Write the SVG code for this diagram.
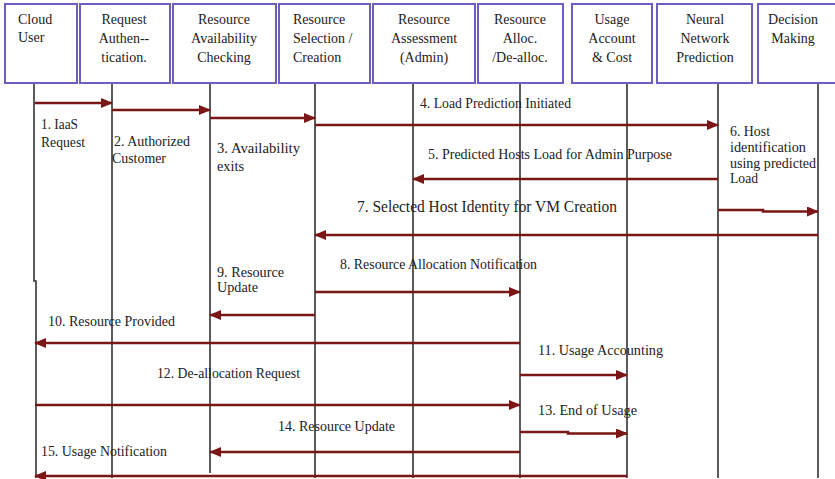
<svg xmlns="http://www.w3.org/2000/svg" width="835" height="479" viewBox="0 0 835 479">
  <style>
    .box { fill: #ffffff; stroke: #6c5fbf; stroke-width: 2; }
    .hdr { font-family: "Liberation Serif", "Times New Roman", serif; font-size: 14px; fill: #222222; }
    .mid { text-anchor: middle; }
    .life { stroke: #333333; stroke-width: 1.6; fill: none; }
    .msg { stroke: #7a1616; stroke-width: 2.6; fill: none; marker-end: url(#head); }
    .lbl { font-family: "Liberation Serif", "Times New Roman", serif; font-size: 14px; fill: #222222; }
    .big { font-size: 16px; }
  </style>
  <defs>
    <marker id="head" markerUnits="userSpaceOnUse" markerWidth="12" markerHeight="10" refX="11" refY="5" orient="auto">
      <path d="M0,0 L12,5 L0,10 Z" fill="#7a1616"/>
    </marker>
  </defs>
  <rect x="0" y="0" width="835" height="479" fill="#ffffff"/>

  <!-- lifelines -->
  <g id="lifelines">
    <path class="life" d="M34,83 V281 H36 V478"/>
    <line class="life" x1="112" y1="83" x2="112" y2="478"/>
    <line class="life" x1="210" y1="83" x2="210" y2="473"/>
    <line class="life" x1="315" y1="83" x2="315" y2="478"/>
    <line class="life" x1="413" y1="83" x2="413" y2="478"/>
    <line class="life" x1="520" y1="83" x2="520" y2="478"/>
    <line class="life" x1="627" y1="83" x2="627" y2="478"/>
    <line class="life" x1="718" y1="83" x2="718" y2="478"/>
    <line class="life" x1="818" y1="83" x2="818" y2="478"/>
  </g>

  <!-- participants -->
  <g id="cloud-user">
    <rect class="box" x="5" y="4" width="72" height="79"/>
    <text class="hdr" x="18" y="24">Cloud</text>
    <text class="hdr" x="18" y="42">User</text>
  </g>
  <g id="request-auth">
    <rect class="box" x="80" y="4" width="90" height="79"/>
    <text class="hdr mid" x="124" y="24">Request</text>
    <text class="hdr mid" x="124" y="43">Authen--</text>
    <text class="hdr mid" x="124" y="62">tication.</text>
  </g>
  <g id="resource-availability">
    <rect class="box" x="173" y="4" width="103" height="79"/>
    <text class="hdr mid" x="224" y="24">Resource</text>
    <text class="hdr mid" x="224" y="43">Availability</text>
    <text class="hdr mid" x="224" y="62">Checking</text>
  </g>
  <g id="resource-selection">
    <rect class="box" x="279" y="4" width="91" height="79"/>
    <text class="hdr" x="293" y="24">Resource</text>
    <text class="hdr" x="293" y="43">Selection /</text>
    <text class="hdr" x="293" y="62">Creation</text>
  </g>
  <g id="resource-assessment">
    <rect class="box" x="373" y="4" width="102" height="79"/>
    <text class="hdr mid" x="424" y="24">Resource</text>
    <text class="hdr mid" x="424" y="43">Assessment</text>
    <text class="hdr mid" x="424" y="62">(Admin)</text>
  </g>
  <g id="resource-alloc">
    <rect class="box" x="478" y="4" width="85" height="79"/>
    <text class="hdr mid" x="520" y="24">Resource</text>
    <text class="hdr mid" x="520" y="43">Alloc.</text>
    <text class="hdr mid" x="520" y="62">/De-alloc.</text>
  </g>
  <g id="usage-account">
    <rect class="box" x="572" y="4" width="80" height="79"/>
    <text class="hdr mid" x="612" y="24">Usage</text>
    <text class="hdr mid" x="612" y="43">Account</text>
    <text class="hdr mid" x="612" y="62">&amp; Cost</text>
  </g>
  <g id="neural-network">
    <rect class="box" x="657" y="4" width="95" height="79"/>
    <text class="hdr mid" x="705" y="24">Neural</text>
    <text class="hdr mid" x="705" y="43">Network</text>
    <text class="hdr mid" x="705" y="62">Prediction</text>
  </g>
  <g id="decision-making">
    <rect class="box" x="758" y="4" width="90" height="79"/>
    <text class="hdr mid" x="793" y="24">Decision</text>
    <text class="hdr mid" x="793" y="43">Making</text>
  </g>

  <!-- messages -->
  <g id="connectors">
    <line class="msg" x1="35" y1="103" x2="112" y2="103"/>
    <line class="msg" x1="112" y1="110" x2="210" y2="110"/>
    <line class="msg" x1="210" y1="118" x2="315" y2="118"/>
    <line class="msg" x1="315" y1="125" x2="718" y2="125"/>
    <line class="msg" x1="718" y1="179" x2="413" y2="179"/>
    <path class="msg" d="M718,210 H763 V211.5 H818"/>
    <line class="msg" x1="818" y1="235" x2="315" y2="235"/>
    <line class="msg" x1="315" y1="292" x2="520" y2="292"/>
    <line class="msg" x1="315" y1="315" x2="210" y2="315"/>
    <line class="msg" x1="520" y1="343" x2="35" y2="343"/>
    <line class="msg" x1="520" y1="375" x2="627" y2="375"/>
    <line class="msg" x1="35" y1="405" x2="520" y2="405"/>
    <path class="msg" d="M520,432 H568 V433.5 H627"/>
    <line class="msg" x1="520" y1="452" x2="210" y2="452"/>
    <line class="msg" x1="627" y1="476" x2="35" y2="476"/>
  </g>

  <!-- message labels -->
  <g id="labels">
    <text class="lbl" x="41" y="129" textLength="37" lengthAdjust="spacingAndGlyphs">1. IaaS</text>
    <text class="lbl" x="41" y="147" textLength="44" lengthAdjust="spacingAndGlyphs">Request</text>
    <text class="lbl" x="114" y="146" textLength="76" lengthAdjust="spacingAndGlyphs">2. Authorized</text>
    <text class="lbl" x="112" y="163" textLength="54" lengthAdjust="spacingAndGlyphs">Customer</text>
    <text class="lbl" x="217" y="153" textLength="83" lengthAdjust="spacingAndGlyphs">3. Availability</text>
    <text class="lbl" x="217" y="171" textLength="27" lengthAdjust="spacingAndGlyphs">exits</text>
    <text class="lbl" x="420" y="108" textLength="151" lengthAdjust="spacingAndGlyphs">4. Load Prediction Initiated</text>
    <text class="lbl" x="428" y="159" textLength="244" lengthAdjust="spacingAndGlyphs">5. Predicted Hosts Load for Admin Purpose</text>
    <text class="lbl" x="730" y="136" textLength="40" lengthAdjust="spacingAndGlyphs">6. Host</text>
    <text class="lbl" x="730" y="152" textLength="76" lengthAdjust="spacingAndGlyphs">identification</text>
    <text class="lbl" x="730" y="168" textLength="86" lengthAdjust="spacingAndGlyphs">using predicted</text>
    <text class="lbl" x="730" y="183" textLength="28" lengthAdjust="spacingAndGlyphs">Load</text>
    <text class="lbl big" x="357" y="212" textLength="260" lengthAdjust="spacingAndGlyphs">7. Selected Host Identity for VM Creation</text>
    <text class="lbl" x="340" y="269" textLength="197" lengthAdjust="spacingAndGlyphs">8. Resource Allocation Notification</text>
    <text class="lbl" x="217" y="277" textLength="67" lengthAdjust="spacingAndGlyphs">9. Resource</text>
    <text class="lbl" x="217" y="292" textLength="41" lengthAdjust="spacingAndGlyphs">Update</text>
    <text class="lbl" x="48" y="326" textLength="127" lengthAdjust="spacingAndGlyphs">10. Resource Provided</text>
    <text class="lbl" x="538" y="355" textLength="125" lengthAdjust="spacingAndGlyphs">11. Usage Accounting</text>
    <text class="lbl" x="157" y="378" textLength="143" lengthAdjust="spacingAndGlyphs">12. De-allocation Request</text>
    <text class="lbl" x="538" y="415" textLength="99" lengthAdjust="spacingAndGlyphs">13. End of Usage</text>
    <text class="lbl" x="278" y="431" textLength="117" lengthAdjust="spacingAndGlyphs">14. Resource Update</text>
    <text class="lbl" x="41" y="456" textLength="126" lengthAdjust="spacingAndGlyphs">15. Usage Notification</text>
  </g>
</svg>
